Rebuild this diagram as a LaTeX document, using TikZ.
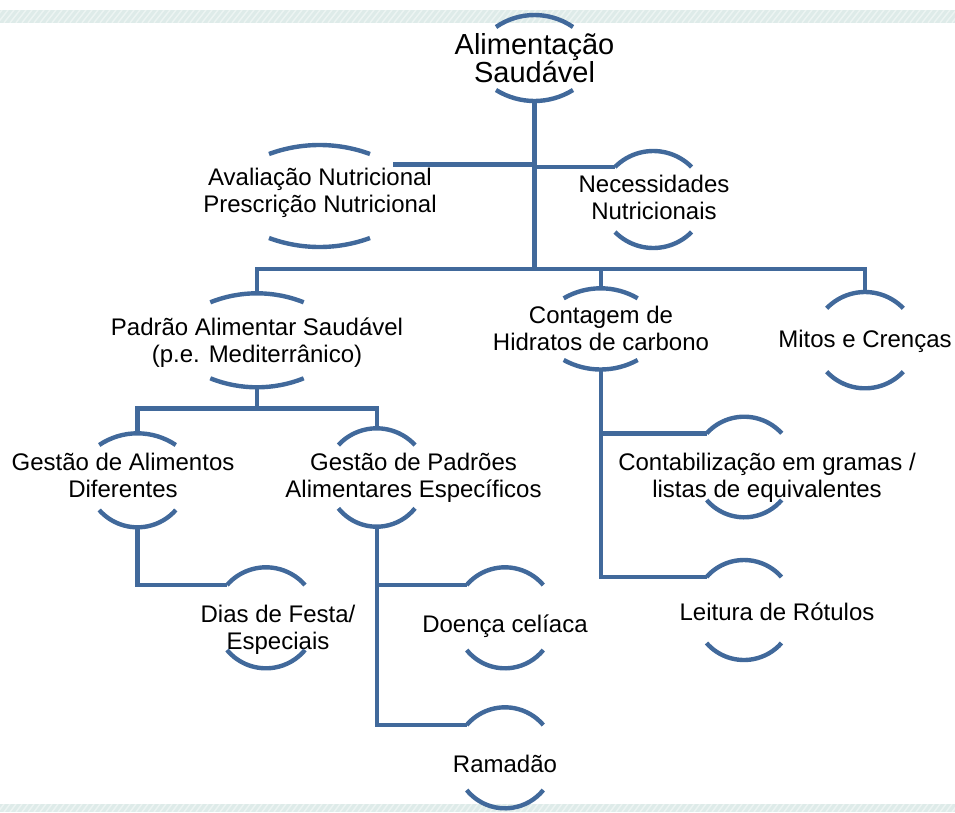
\documentclass[tikz,border=0pt]{standalone}
\usepackage{fontspec}
\setmainfont{Liberation Sans}
\definecolor{ln}{RGB}{65,105,155}
\definecolor{band}{RGB}{222,235,233}
\newcommand\arcpair[7]{% name, cx, half chord, top chord y, top apex y, bottom chord y, bottom apex y
  \pgfmathsetmacro\myST{#4-#5}%
  \pgfmathsetmacro\myRT{(#3*#3+\myST*\myST)/(2*\myST)}%
  \pgfmathsetmacro\myAT{asin(#3/\myRT)}%
  \pgfmathsetmacro\mySB{#7-#6}%
  \pgfmathsetmacro\myRB{(#3*#3+\mySB*\mySB)/(2*\mySB)}%
  \pgfmathsetmacro\myAB{asin(#3/\myRB)}%
  \draw[arcline] ({#2-#3},#4) arc[start angle={270-\myAT}, end angle={270+\myAT}, radius=\myRT];
  \draw[arcline] ({#2-#3},#6) arc[start angle={90+\myAB}, end angle={90-\myAB}, radius=\myRB];
  \coordinate (#1-t) at (#2,#5);
  \coordinate (#1-b) at (#2,#7);
  \coordinate (#1-tl) at ({#2-#3},#4);
}
\begin{document}
\begin{tikzpicture}[x=1pt,y=-1pt,
  arcline/.style={draw=ln, line width=4.4pt, line cap=butt},
  conn/.style={draw=ln, line width=4.4pt, line join=miter},
  lbl/.style={align=center, font=\fontsize{24}{26.5}\selectfont, inner sep=0pt, anchor=base}]
\useasboundingbox (0,0) rectangle (955,812);
% background bands
\fill[band] (0,10) rectangle (955,22.7);
\fill[band] (0,804) rectangle (955,812);
\begin{scope}
  \clip (0,10) rectangle (955,22.7);
  \foreach \x in {-20,-14,...,960} \draw[white, opacity=0.45, line width=1.4pt] (\x,22.7) -- (\x+10,10);
\end{scope}
\begin{scope}
  \clip (0,804) rectangle (955,812);
  \foreach \x in {-20,-14,...,960} \draw[white, opacity=0.45, line width=1.4pt] (\x,812) -- (\x+6,804);
\end{scope}

% text nodes
\node[lbl, font=\fontsize{29}{27.5}\selectfont] (alim) at (534.5,82) {Alimentação\\Saudável};
\node[lbl] (aval) at (320,212) {Avaliação Nutricional\\Prescrição Nutricional};
\node[lbl] (necess) at (654,219) {Necessidades\\Nutricionais};
\node[lbl] (padrao) at (257,362) {Padrão Alimentar Saudável\\(p.e. Mediterrânico)};
\node[lbl] (contagem) at (601,350) {Contagem de\\Hidratos de carbono};
\node[lbl] (mitos) at (865,347) {Mitos e Crenças};
\node[lbl] (gestA) at (123,497) {Gestão de Alimentos\\Diferentes};
\node[lbl] (gestP) at (413.5,497) {Gestão de Padrões\\Alimentares Específicos};
\node[lbl] (dias) at (278,649) {Dias de Festa/\\Especiais};
\node[lbl] (doenca) at (505,632) {Doença celíaca};
\node[lbl] (ramadao) at (505,772) {Ramadão};
\node[lbl] (contab) at (767,497) {Contabilização em gramas /\\listas de equivalentes};
\node[lbl] (leitura) at (777,620) {Leitura de Rótulos};

% arcs around each node
\arcpair{alim}{534.5}{38.5}{27}{15}{90}{101}
\arcpair{aval}{319.5}{50.5}{154}{145}{238}{247}
\arcpair{necess}{653.3}{38.3}{167}{151}{232}{248}
\arcpair{padrao}{257}{46.7}{302.3}{293.3}{378.3}{387.3}
\arcpair{contagem}{600.7}{37}{298.3}{288.3}{360}{369.5}
\arcpair{mitos}{865}{38.3}{308.3}{292}{371.7}{388.3}
\arcpair{gestA}{137.5}{38.3}{445}{433.3}{510}{527.3}
\arcpair{gestP}{376.7}{38.3}{445}{428.3}{508.3}{526.7}
\arcpair{dias}{266}{39}{585}{567.3}{650}{668.3}
\arcpair{doenca}{505}{38.3}{585}{567.3}{650}{668.3}
\arcpair{ramadao}{505}{38.3}{725}{707.3}{790}{808.3}
\arcpair{contab}{744.2}{37.5}{433.3}{416.7}{500}{517.3}
\arcpair{leitura}{744}{37.5}{577}{560}{643}{660}

% connectors
\coordinate (trunk) at (534.5,269);
\coordinate (jL) at (534.5,164.5);
\coordinate (avalend) at (393,164.5);
\coordinate (bar2) at (257,408.5);
\draw[conn] (alim-b) -- (trunk);
\draw[conn] (trunk) -| (padrao-t);
\draw[conn] (trunk) -| (contagem-t);
\draw[conn] (trunk) -| (mitos-t);
\draw[conn] (jL) -- (avalend);
\draw[conn] (alim-b |- necess-tl) -- (necess-tl);
\draw[conn] (padrao-b) -- (bar2) -| (gestA-t);
\draw[conn] (bar2) -| (gestP-t);
\draw[conn] (gestA-b) |- (dias-tl);
\draw[conn] (gestP-b) |- (doenca-tl);
\draw[conn] (gestP-b) |- (ramadao-tl);
\draw[conn] (contagem-b) |- (contab-tl);
\draw[conn] (contagem-b) |- (leitura-tl);
\end{tikzpicture}
\end{document}
